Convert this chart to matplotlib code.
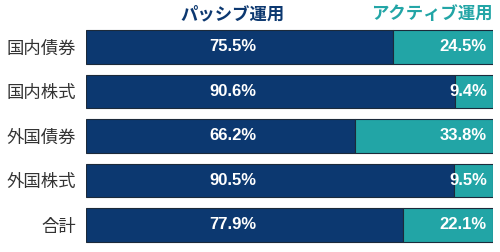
import matplotlib
matplotlib.use('Agg')
import matplotlib.pyplot as plt
import matplotlib.transforms as mtransforms

plt.rcParams['font.family'] = ['Noto Sans CJK JP', 'DejaVu Sans']

# --- Data ---
categories = ['国内債券', '国内株式', '外国債券', '外国株式', '合計']
passive = [75.5, 90.6, 66.2, 90.5, 77.9]
active = [24.5, 9.4, 33.8, 9.5, 22.1]
series_names = ['パッシブ運用', 'アクティブ運用']

NAVY = '#0c3870'
TEAL = '#22a5a6'
PCT_FONT = ['Liberation Sans', 'DejaVu Sans']

fig = plt.figure(figsize=(5.0, 2.52), dpi=100)
ax = fig.add_axes([0.172, 0.019, 0.814, 0.883])

ypos = list(range(len(categories)))
ax.barh(ypos, passive, height=0.76, color=NAVY, edgecolor='#1c2a3a', linewidth=0.8)
ax.barh(ypos, active, left=passive, height=0.76, color=TEAL, edgecolor='#1c2a3a', linewidth=0.8)

for y, p, a in zip(ypos, passive, active):
    ax.text(36.1, y, f'{p:.1f}%', ha='center', va='center', color='white',
            fontsize=12, fontweight='bold', family=PCT_FONT)
    ax.text(98.5, y, f'{a:.1f}%', ha='right', va='center', color='white',
            fontsize=12, fontweight='bold', family=PCT_FONT)

ax.set_xlim(0, 100)
ax.set_ylim(len(categories) - 0.5, -0.5)
ax.set_yticks(ypos)
ax.set_yticklabels(categories, fontsize=12.5, color='#333333')
ax.tick_params(axis='y', length=0, pad=7)
ax.set_xticks([])
for s in ax.spines.values():
    s.set_visible(False)

# header labels above the bars
trans = mtransforms.blended_transform_factory(ax.transData, fig.transFigure)
ax.text(36.1, 1 - 14 / 252, series_names[0], transform=trans, ha='center', va='center',
        color=NAVY, fontsize=12.5, fontweight='bold')
ax.text(100, 1 - 14 / 252, series_names[1], transform=trans, ha='right', va='center',
        color=TEAL, fontsize=12.5, fontweight='bold')

fig.savefig('out.png', dpi=100)
